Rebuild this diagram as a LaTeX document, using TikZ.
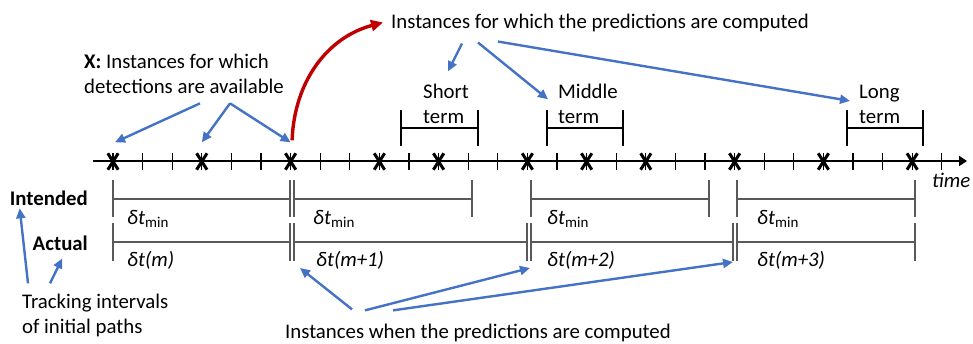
\documentclass[tikz,border=0pt]{standalone}
\usepackage{fontspec}
\setmainfont{Carlito}
\usepackage{xcolor}
\usepackage{tikz}
\usetikzlibrary{arrows.meta,positioning,calc}

\definecolor{pointblue}{RGB}{68,114,196}
\definecolor{pointred}{RGB}{192,0,0}

\begin{document}
\begin{tikzpicture}[x=1pt, y=-1pt,
  txt/.style={font=\fontsize{20.8}{25}\selectfont, inner sep=0pt, anchor=base west},
  multi/.style={txt, align=left},
  pointer/.style={draw=pointblue, line width=2.4pt, -{Triangle[length=10pt,width=9pt]}},
  curved/.style={draw=pointred, line width=3.4pt, -{Triangle[length=12pt,width=11pt]}},
  timeaxis/.style={line width=2.2pt, -{Triangle[length=8pt,width=10pt]}},
  tickmark/.style={line width=1.2pt},
  xmark/.style={minimum width=10pt, minimum height=16pt, inner sep=0pt},
  xstroke/.style={line width=3pt},
  interval/.style={draw=black!65, line width=1.2pt},
  termbar/.style={line width=1.2pt}]
  \useasboundingbox (0,0) rectangle (973,343);

  % time axis with ticks and detections
  \draw[timeaxis] (93,161) -- (967,161);
  \foreach \i in {0,...,28}
    \draw[tickmark] ({113+29.6*\i},153) -- ++(0,17);
  \foreach \i in {0,3,6,9,11,14,16,18,21,24,27} {
    \node[xmark] (x\i) at ({113+29.6*\i},161.5) {};
    \draw[xstroke] (x\i.south west) -- (x\i.north east) (x\i.north west) -- (x\i.south east);
  }
  \node[txt, font=\fontsize{20.8}{25}\selectfont\itshape] (timelbl) at (932,187) {time};

  % prediction horizons
  \foreach \a/\b in {401/478, 547/623, 847/923}
    \draw[termbar] (\a,110) -- (\a,146) (\a,128) -- (\b,128) (\b,110) -- (\b,146);
  \node[multi] (short) at (423,123) {Short\\term};
  \node[multi] (middle) at (558,123) {Middle\\term};
  \node[multi] (long) at (859,123) {Long\\term};

  % intended and actual tracking intervals
  \foreach \a/\b in {113/290, 294/472, 531/709, 737/915}
    \draw[interval] (\a,180) -- (\a,217) (\a,199) -- (\b,199) (\b,180) -- (\b,217);
  \foreach \a/\b in {113/290, 294/527, 531/733, 737/915}
    \draw[interval] (\a,223) -- (\a,261) (\a,242) -- (\b,242) (\b,223) -- (\b,261);
  \node[txt, font=\fontsize{20.8}{25}\selectfont\bfseries, anchor=base east] (intended) at (88,205) {Intended};
  \node[txt, font=\fontsize{20.8}{25}\selectfont\bfseries, anchor=base east] (actual) at (88,250) {Actual};
  \foreach \x/\n in {127/1, 313/2, 547/3, 757/4}
    \node[txt] (min\n) at (\x,224) {\textit{δt}\raisebox{-3pt}{\fontsize{15}{15}\selectfont min}};
  \node[txt] (dm0) at (127,266) {\textit{δt(m)}};
  \node[txt] (dm1) at (316,266) {\textit{δt(m+1)}};
  \node[txt] (dm2) at (547,266) {\textit{δt(m+2)}};
  \node[txt] (dm3) at (757,266) {\textit{δt(m+3)}};

  % explanations
  \node[multi] (detect) at (84,93) {\textbf{X:} Instances for which\\detections are available};
  \node[txt] (predfor) at (391,28) {Instances for which the predictions are computed};
  \node[txt] (predwhen) at (285,338) {Instances when the predictions are computed};
  \node[multi] (tracking) at (22,333) {Tracking intervals\\of initial paths};

  \coordinate (now1) at (300,268);
  \coordinate (now2) at (530,268);
  \coordinate (now3) at (733,262);

  \draw[pointer] ([xshift=116pt,yshift=-10pt]detect.south west) -- ([xshift=2pt,yshift=11pt]x0.north);
  \draw[pointer] ([xshift=146pt,yshift=-10pt]detect.south west) -- ([yshift=11pt]x3.north);
  \draw[pointer] ([xshift=146pt,yshift=-10pt]detect.south west) -- ([yshift=11pt]x6.north);
  \draw[curved] ([xshift=1.5pt,yshift=13pt]x6.north) to[out=88,in=195] ([xshift=-8pt]predfor.west);
  \draw[pointer] ([xshift=71pt,yshift=-12pt]predfor.south west) -- ([xshift=2pt,yshift=12pt]short.north);
  \draw[pointer] ([xshift=87pt,yshift=-11pt]predfor.south west) -- ([xshift=-10pt,yshift=4pt]middle.west);
  \draw[pointer] ([xshift=107pt,yshift=-10pt]predfor.south west) -- ([xshift=-9pt,yshift=3pt]long.west);
  \draw[pointer] ([xshift=67pt,yshift=14pt]predwhen.north west) -- (now1);
  \draw[pointer] ([xshift=80pt,yshift=13pt]predwhen.north west) -- (now2);
  \draw[pointer] ([xshift=108pt,yshift=13pt]predwhen.north west) -- (now3);
  \draw[pointer] ([xshift=6pt,yshift=10pt]tracking.north west) -- ([xshift=10pt,yshift=-3pt]intended.south west);
  \draw[pointer] ([xshift=28pt,yshift=10pt]tracking.north west) -- ([xshift=2pt,yshift=-8pt]actual.south);
\end{tikzpicture}
\end{document}
